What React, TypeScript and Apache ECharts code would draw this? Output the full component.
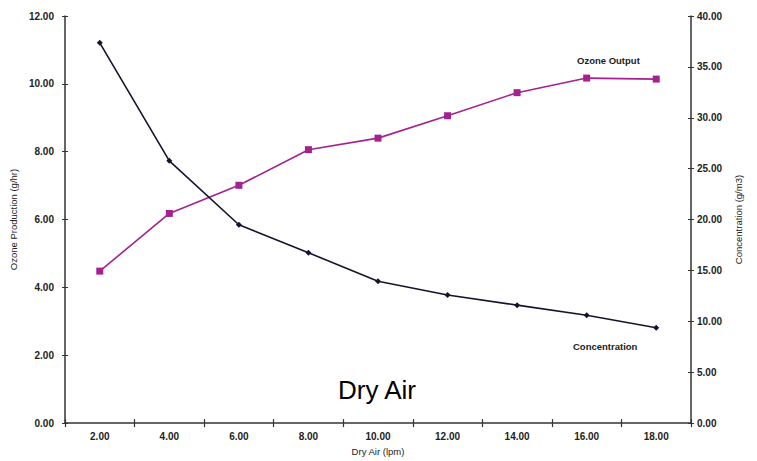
import React, { useEffect, useRef } from "react";
import * as echarts from "echarts";

const categories = ["2.00", "4.00", "6.00", "8.00", "10.00", "12.00", "14.00", "16.00", "18.00"];
const ozoneOutput = [4.48, 6.18, 7.01, 8.06, 8.4, 9.06, 9.74, 10.17, 10.14];
const concentration = [37.36, 25.77, 19.49, 16.74, 13.94, 12.59, 11.59, 10.6, 9.37];

const FONT = "'Liberation Sans', Arial, sans-serif";
const MAGENTA = "#a3228f";
const NAVY = "#14142e";

export default function App() {
  const ref = useRef<HTMLDivElement>(null);
  useEffect(() => {
    if (!ref.current) return;
    const chart = echarts.init(ref.current, null, { renderer: "svg" });
    const tickLabel = { fontFamily: FONT, fontSize: 10, fontWeight: "bold" as const, color: "#222" };
    const nameStyle = { fontFamily: FONT, fontSize: 9.5, color: "#222" };
    const axisLine = { show: true, lineStyle: { color: "#333", width: 1.5 } };
    chart.setOption({
      animation: false,
      backgroundColor: "#fff",
      grid: { left: 65, right: 66, top: 16, bottom: 31, containLabel: false },
      xAxis: [
        {
          type: "category",
          data: categories,
          boundaryGap: true,
          axisLine,
          axisTick: { show: true, length: 4, lineStyle: { color: "#333", width: 1.2 } },
          axisLabel: { ...tickLabel, margin: 8 },
          name: "Dry Air (lpm)",
          nameLocation: "middle",
          nameGap: 22,
          nameTextStyle: nameStyle,
          splitLine: { show: false },
        },
        {
          type: "category",
          data: categories,
          boundaryGap: true,
          position: "bottom",
          axisLine: { show: false },
          axisTick: { show: true, inside: true, length: 4, lineStyle: { color: "#333", width: 1.2 } },
          axisLabel: { show: false },
          splitLine: { show: false },
        },
      ],
      yAxis: [
        {
          type: "value",
          min: 0,
          max: 12,
          interval: 2,
          position: "left",
          axisLine,
          axisTick: { show: true, length: 3, lineStyle: { color: "#333" } },
          axisLabel: { ...tickLabel, margin: 11, formatter: (v: number) => v.toFixed(2) },
          splitLine: { show: false },
          name: "Ozone Production (g/hr)",
          nameLocation: "middle",
          nameRotate: 90,
          nameGap: 40,
          nameTextStyle: nameStyle,
        },
        {
          type: "value",
          min: 0,
          max: 40,
          interval: 5,
          position: "right",
          axisLine,
          axisTick: { show: true, length: 3, lineStyle: { color: "#333" } },
          axisLabel: { ...tickLabel, margin: 6, formatter: (v: number) => v.toFixed(2) },
          splitLine: { show: false },
          name: "Concentration (g/m3)",
          nameLocation: "middle",
          nameRotate: 90,
          nameGap: 42,
          nameTextStyle: nameStyle,
        },
        {
          type: "value",
          min: 0,
          max: 12,
          interval: 2,
          position: "left",
          axisLine: { show: false },
          axisTick: { show: true, inside: true, length: 3, lineStyle: { color: "#333" } },
          axisLabel: { show: false },
          splitLine: { show: false },
        },
        {
          type: "value",
          min: 0,
          max: 40,
          interval: 5,
          position: "right",
          axisLine: { show: false },
          axisTick: { show: true, inside: true, length: 3, lineStyle: { color: "#333" } },
          axisLabel: { show: false },
          splitLine: { show: false },
        },
      ],
      series: [
        {
          name: "Ozone Output",
          type: "line",
          xAxisIndex: 0,
          yAxisIndex: 0,
          data: ozoneOutput,
          symbol: "rect",
          symbolSize: 7,
          lineStyle: { color: MAGENTA, width: 1.6 },
          itemStyle: { color: MAGENTA },
        },
        {
          name: "Concentration",
          type: "line",
          xAxisIndex: 0,
          yAxisIndex: 1,
          data: concentration,
          symbol: "diamond",
          symbolSize: 6,
          lineStyle: { color: NAVY, width: 1.6 },
          itemStyle: { color: NAVY },
        },
      ],
      graphic: [
        {
          type: "text",
          left: 577,
          top: 55,
          style: { text: "Ozone Output", fontFamily: FONT, fontSize: 9.5, fontWeight: "bold", fill: "#222" },
        },
        {
          type: "text",
          left: 573,
          top: 341,
          style: { text: "Concentration", fontFamily: FONT, fontSize: 9.5, fontWeight: "bold", fill: "#222" },
        },
        {
          type: "text",
          left: 338,
          top: 377,
          style: { text: "Dry Air", fontFamily: FONT, fontSize: 26, fill: "#000" },
        },
      ],
    });
    return () => chart.dispose();
  }, []);
  return (
    <div
      ref={ref}
      style={{ position: "absolute", left: 0, top: 0, width: 757, height: 461 }}
    />
  );
}
